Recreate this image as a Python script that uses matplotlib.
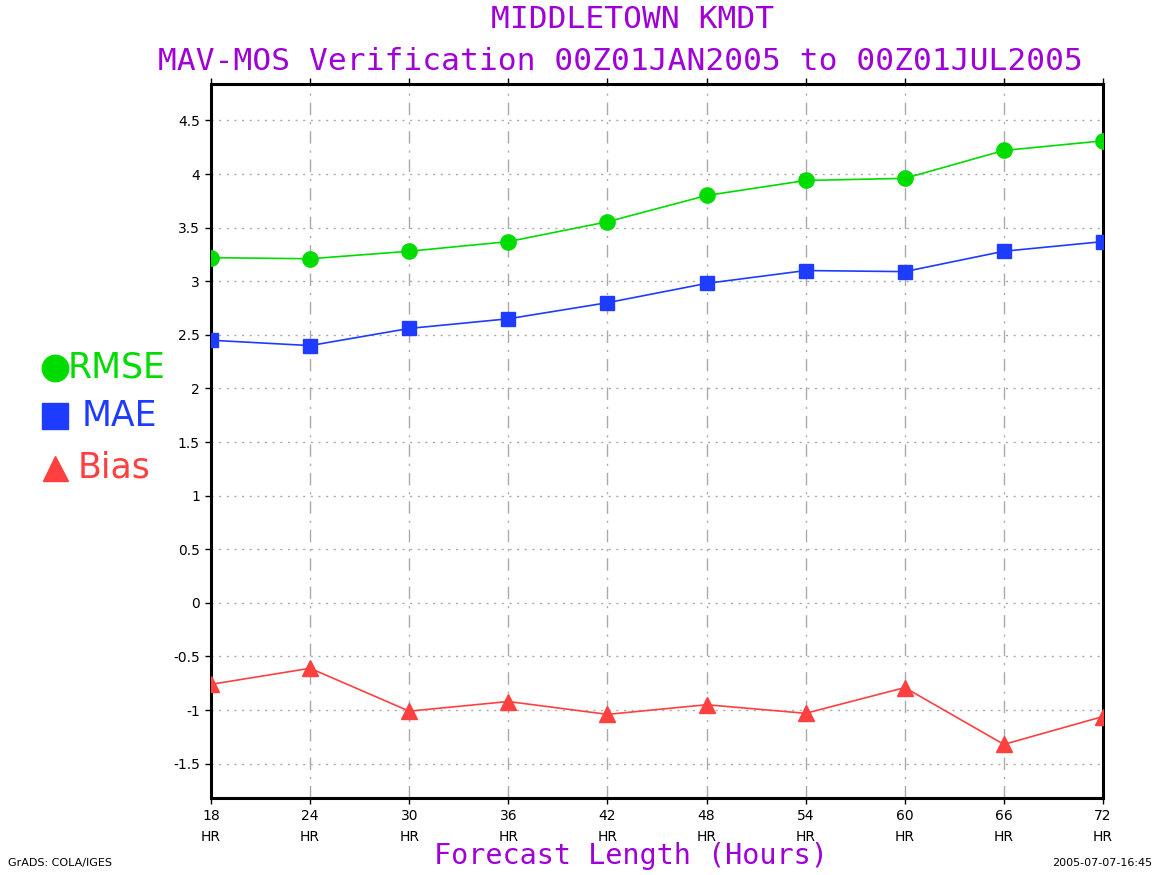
import matplotlib
matplotlib.use("Agg")
import matplotlib.pyplot as plt
import numpy as np

hours = [18, 24, 30, 36, 42, 48, 54, 60, 66, 72]
rmse = [3.22, 3.21, 3.28, 3.37, 3.555, 3.80, 3.94, 3.96, 4.22, 4.31]
mae = [2.45, 2.40, 2.56, 2.65, 2.80, 2.98, 3.10, 3.09, 3.28, 3.37]
bias = [-0.76, -0.61, -1.01, -0.92, -1.04, -0.95, -1.03, -0.79, -1.32, -1.06]
yticks = [-1.5, -1, -0.5, 0, 0.5, 1, 1.5, 2, 2.5, 3, 3.5, 4, 4.5]
ytick_labels = ["-1.5", "-1", "-0.5", "0", "0.5", "1", "1.5", "2", "2.5", "3", "3.5", "4", "4.5"]
xtick_labels = [f"{h}\nHR" for h in hours]
series_names = ["RMSE", "MAE", "Bias"]

GREEN = "#00dc00"
BLUE = "#1e3cff"
RED = "#ff4040"
PURPLE = "#a000d8"

fig = plt.figure(figsize=(11.61, 8.75), dpi=100)
ax = fig.add_axes([211/1161, 1-798/875, (1103-211)/1161, (798-84)/875])

ax.set_xlim(18, 72)
ax.set_ylim(-1.82, 4.84)

for x in hours[1:-1]:
    ax.axvline(x, color="#aaaaaa", lw=1.0, ls=(0, (9, 5, 1.5, 5)), zorder=1)
for y in yticks:
    ax.axhline(y, color="#aaaaaa", lw=1.0, ls=(0, (1.5, 4)), zorder=1)

ax.plot(hours, rmse, color=GREEN, lw=1.2, marker="o", ms=11, zorder=3)
ax.plot(hours, mae, color=BLUE, lw=1.2, marker="s", ms=10.5, zorder=3)
ax.plot(hours, bias, color=RED, lw=1.2, marker="^", ms=11, zorder=3)

ax.set_xticks(hours)
ax.set_xticklabels(xtick_labels, fontsize=10, linespacing=1.6)
ax.set_yticks(yticks)
ax.set_yticklabels(ytick_labels, fontsize=10)
ax.tick_params(axis="both", direction="out", length=4, width=1, pad=4)
ax.tick_params(axis="x", top=True)

for s in ax.spines.values():
    s.set_linewidth(2.2)
    s.set_color("black")

mono = "DejaVu Sans Mono"
fig.text(633/1161, 1-20/875, "MIDDLETOWN KMDT", color=PURPLE, fontsize=22.5,
         ha="center", va="center", family=mono)
fig.text(620/1161, 1-62/875, "MAV-MOS Verification 00Z01JAN2005 to 00Z01JUL2005",
         color=PURPLE, fontsize=22.5, ha="center", va="center", family=mono)

fig.text(631/1161, 1-856/875, "Forecast Length (Hours)", color=PURPLE, fontsize=20.5,
         ha="center", va="center", family=mono)

fig.text(8/1161, 1-863/875, "GrADS: COLA/IGES", fontsize=8, ha="left", va="center")
fig.text(1152/1161, 1-863/875, "2005-07-07-16:45", fontsize=8, ha="right", va="center")

# legend
leg_items = [(GREEN, "o", 368, 19, 68), (BLUE, "s", 416, 19, 82), (RED, "^", 468, 18, 78)]
for (col, mk, ypix, msz, tx), name in zip(leg_items, series_names):
    fig.lines.append(plt.Line2D([55/1161], [1-ypix/875], marker=mk, color=col,
                                ms=msz, ls="none", transform=fig.transFigure))
    fig.text(tx/1161, 1-ypix/875, name, color=col,
             fontsize=25, ha="left", va="center")

fig.savefig("out.png", dpi=100)
